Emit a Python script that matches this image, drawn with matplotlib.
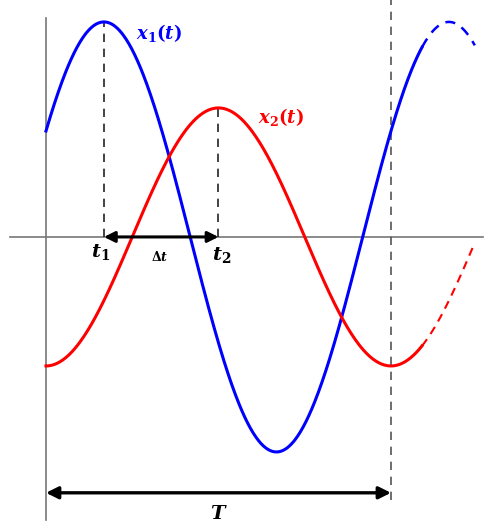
import numpy as np
import matplotlib.pyplot as plt

plt.rcParams['mathtext.fontset'] = 'custom'
plt.rcParams['mathtext.it'] = 'DejaVu Serif:italic:bold'
plt.rcParams['mathtext.rm'] = 'DejaVu Serif:bold'
plt.rcParams['mathtext.bf'] = 'DejaVu Serif:bold'

# wave parameters (period T = 1)
T = 1.0
A1 = 1.0
A2 = 0.6
t1 = 0.168
t2 = 0.5
t_solid_end = 1.09
t_dash_end = 1.243

fig = plt.figure(figsize=(5, 5.3), dpi=100)
ax = fig.add_axes([0, 0, 1, 1])
ax.set_xlim(-0.1333, 1.316)
ax.set_ylim(-1.363, 1.102)
ax.axis('off')

# axes
ax.plot([-0.104, 1.267], [0, 0], color='#777777', lw=1.2, zorder=1)
ax.plot([0, 0], [-1.316, 1.019], color='#777777', lw=1.2, zorder=1)
ax.plot([T, T], [-1.223, 1.102], color='#555555', lw=1.2, ls=(0, (5, 4)), zorder=1)

def x1(t):
    return A1 * np.cos(2 * np.pi * (t - t1) / T)

def x2(t):
    return A2 * np.cos(2 * np.pi * (t - t2) / T)

ts = np.linspace(0, t_solid_end, 400)
td = np.linspace(t_solid_end, t_dash_end, 100)
ax.plot(ts, x1(ts), color='blue', lw=2.2, zorder=3)
ax.plot(td, x1(td), color='blue', lw=1.8, ls=(0, (4, 3)), zorder=3)
ax.plot(ts, x2(ts), color='red', lw=2.2, zorder=3)
ax.plot(td, x2(td), color='red', lw=1.5, ls=(0, (4, 3)), zorder=3)

# peak markers
ax.plot([t1, t1], [0, A1], color='#222222', lw=1.2, ls=(0, (5, 4)), zorder=2)
ax.plot([t2, t2], [0, A2], color='#222222', lw=1.2, ls=(0, (5, 4)), zorder=2)

# arrows
ax.annotate('', xy=(t2, 0), xytext=(t1, 0),
            arrowprops=dict(arrowstyle='<|-|>', color='black', lw=2.2,
                            mutation_scale=16, shrinkA=0, shrinkB=0), zorder=4)
ax.annotate('', xy=(T, -1.19), xytext=(0, -1.19),
            arrowprops=dict(arrowstyle='<|-|>', color='black', lw=2.4,
                            mutation_scale=18, shrinkA=0, shrinkB=0), zorder=4)

# labels
ax.text(0.261, 0.949, r'$x_1(t)$', color='blue', fontsize=13, va='center', ha='left')
ax.text(0.614, 0.558, r'$x_2(t)$', color='red', fontsize=13, va='center', ha='left')
ax.text(0.157, -0.07, r'$t_1$', fontsize=14, va='center', ha='center')
ax.text(0.51, -0.084, r'$t_2$', fontsize=14, va='center', ha='center')
ax.text(0.33, -0.093, r'$\Delta t$', fontsize=9, va='center', ha='center')
ax.text(0.5, -1.284, r'$T$', fontsize=14, va='center', ha='center')

fig.savefig('out.png', dpi=100)
